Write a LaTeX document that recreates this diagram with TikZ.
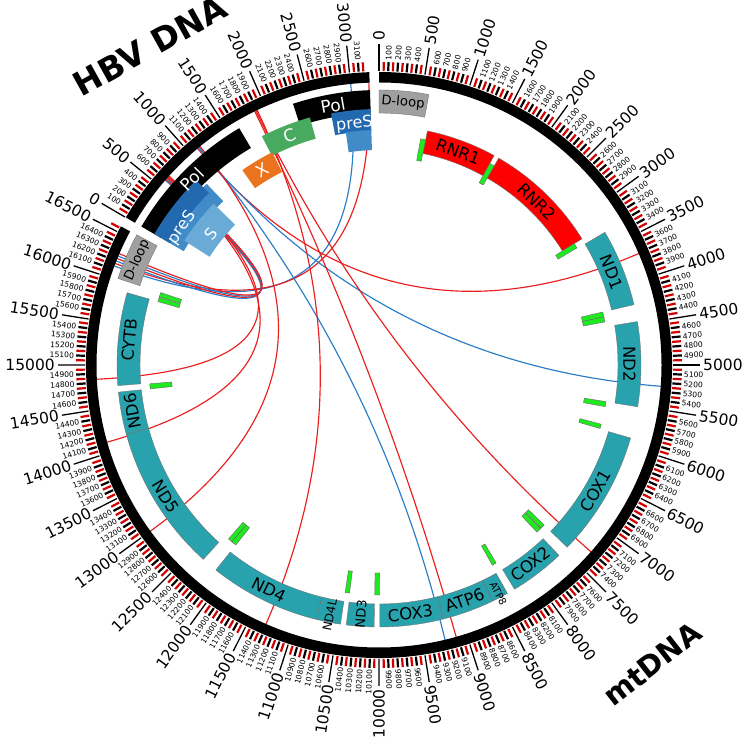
\documentclass[tikz,border=0pt]{standalone}
\usepackage{fontspec}
\setmainfont{DejaVu Sans}
\usetikzlibrary{calc}
\definecolor{geneteal}{RGB}{40,162,172}
\definecolor{rnrred}{RGB}{255,0,0}
\definecolor{dloopgray}{RGB}{160,160,160}
\definecolor{trnagreen}{RGB}{30,235,30}
\definecolor{hbvC}{RGB}{72,170,95}
\definecolor{hbvX}{RGB}{235,115,30}
\definecolor{preSd}{RGB}{35,105,175}
\definecolor{preSm}{RGB}{65,140,200}
\definecolor{preSl}{RGB}{105,170,215}
\definecolor{linkred}{RGB}{235,30,30}
\definecolor{linkblue}{RGB}{40,125,200}
\definecolor{tickred}{RGB}{210,0,0}
\newcommand\ann[5]{\path[#5] (#1:#3) arc[start angle=#1,end angle=#2,radius=#3] -- (#2:#4) arc[start angle=#2,end angle=#1,radius=#4] -- cycle;}
% angle of an mtDNA / HBV position (bp), computed with integers to stay in range
\newcommand\mtang[2]{\pgfmathsetmacro#1{90-0.18*\the\numexpr(#2)/10\relax}}
\newcommand\hbang[2]{\pgfmathsetmacro#1{149.77-0.018*#2}}
\newcommand\mtg[5]{\mtang\gA{#1}\mtang\gB{#2}\ann{\gA}{\gB}{#3}{#4}{#5}}
\newcommand\hbg[5]{\hbang\gA{#1}\hbang\gB{#2}\ann{\gA}{\gB}{#3}{#4}{#5}}
% label: angle, radius, text, mode, style
\newcommand\glab[5]{\ifcase#4 \pgfmathsetmacro\lR{#1-90}\or \pgfmathsetmacro\lR{#1+90}\or \pgfmathsetmacro\lR{#1}\or\pgfmathsetmacro\lR{#1+180}\fi
\node[rotate=\lR,inner sep=0,#5] at (#1:#2) {#3};}
\newcommand\mtl[5]{\mtang\lA{#1}\glab{\lA}{#2}{#3}{#4}{#5}}
\newcommand\hbl[5]{\hbang\lA{#1}\glab{\lA}{#2}{#3}{#4}{#5}}
% radial tick label: angle, radius, text, font, name
\newcommand\radlab[5]{\pgfmathsetmacro\aN{#1<-89.99 ? #1+360 : #1}%
\pgfmathtruncatemacro\isleft{\aN>90.01 ? 1 : 0}%
\ifnum\isleft=1 \node[name=#5,rotate=\aN-180,anchor=east,inner sep=0,font=#4] at (\aN:#2) {#3};%
\else \node[name=#5,rotate=\aN,anchor=west,inner sep=0,font=#4] at (\aN:#2) {#3};\fi}
% link: color, HBV bp, mt bp
\newcommand\lnk[3]{\hbang\kA{#2}\mtang\kB{#3}%
\draw[linkline,#1] (\kA:283) .. controls (\kA:94.3) and (\kB:94.3) .. (\kB:283);}
\begin{document}
\begin{tikzpicture}[x=1pt,y=1pt,
  majtick/.style={line width=1.3pt,black},
  mintick/.style={line width=2.2pt},
  linkline/.style={line width=1.15pt},
  genebox/.style={fill=geneteal,draw=black!55,line width=0.4pt},
  rnrbox/.style={fill=rnrred,draw=black!55,line width=0.4pt},
  dbox/.style={fill=dloopgray,draw=black!55,line width=0.4pt},
  tbox/.style={fill=trnagreen,draw=black!60,line width=0.4pt},
  glabel/.style={font=\fontsize{16.5}{17}\selectfont},
  hlabel/.style={font=\fontsize{17}{18}\selectfont,text=white}]
\useasboundingbox (0,0) rectangle (750,750);
\fill[white] (0,0) rectangle (750,750);
\begin{scope}[shift={(379,385)}]
% ---------- links ----------
% HBV preS (top) to the mtDNA D-loop
\lnk{linkblue}{3000}{16140}
\lnk{linkred}{3205}{16165}
% HBV S region to the mtDNA D-loop
\lnk{linkblue}{590}{16200}
\lnk{linkred}{602}{16225}
\lnk{linkblue}{614}{16260}
\lnk{linkred}{626}{16285}
% HBV S region to CYTB / ND6
\lnk{linkred}{640}{14122}
\lnk{linkred}{652}{14844}
% HBV Pol (about 1100) fan
\lnk{linkred}{1100}{3705}
\lnk{linkblue}{1112}{5244}
\lnk{linkblue}{1124}{9250}
\lnk{linkred}{1136}{13000}
% HBV X / C region
\lnk{linkred}{1870}{9122}
\lnk{linkred}{1885}{7300}
\lnk{linkred}{1900}{11306}
% ---------- ideogram rings ----------
\ann{90}{-208.24}{282.5}{293}{fill=black}
\ann{149.77}{91.9}{282.5}{293}{fill=black}
% ---------- mtDNA ticks (every 50 bp) ----------
\foreach \i in {0,...,331}{
  \pgfmathsetmacro\ang{90-0.9*\i}
  \pgfmathtruncatemacro\mf{mod(\i,10)}
  \pgfmathtruncatemacro\mh{mod(\i,2)}
  \edef\ptxt{\the\numexpr50*\i\relax}
  \ifnum\mf=0
    \draw[majtick] (\ang:294) -- (\ang:321);
    \radlab{\ang}{324}{\ptxt}{\fontsize{15.5}{16}\selectfont}{mtL\i}
  \else\ifnum\mh=0
    \draw[mintick,black] (\ang:294) -- (\ang:303);
    \radlab{\ang}{305}{\ptxt}{\fontsize{7.6}{8}\selectfont}{mts\i}
  \else
    \draw[mintick,tickred] (\ang:294) -- (\ang:303);
  \fi\fi
}
% ---------- HBV ticks ----------
\foreach \i in {0,...,63}{
  \pgfmathsetmacro\ang{149.77-0.9*\i}
  \pgfmathtruncatemacro\mf{mod(\i,10)}
  \pgfmathtruncatemacro\mh{mod(\i,2)}
  \edef\ptxt{\the\numexpr50*\i\relax}
  \ifnum\mf=0
    \draw[majtick] (\ang:294) -- (\ang:321);
    \radlab{\ang}{324}{\ptxt}{\fontsize{15.5}{16}\selectfont}{hbL\i}
  \else\ifnum\mh=0
    \draw[mintick,black] (\ang:294) -- (\ang:303);
    \radlab{\ang}{305}{\ptxt}{\fontsize{7.6}{8}\selectfont}{hbs\i}
  \else
    \draw[mintick,tickred] (\ang:294) -- (\ang:303);
  \fi\fi
}
% ---------- mtDNA genes ----------
\mtg{0}{576}{252}{275}{dbox}
\mtg{16024}{16569}{252}{275}{dbox}
\mtg{648}{1601}{216}{239}{rnrbox}
\mtg{1671}{3229}{216}{239}{rnrbox}
\mtg{3307}{4262}{239}{262}{genebox}
\mtg{4470}{5511}{239}{262}{genebox}
\mtg{5904}{7445}{239}{262}{genebox}
\mtg{7586}{8269}{239}{262}{genebox}
\mtg{8572}{9207}{239}{262}{genebox}
\mtg{8366}{8572}{239}{262}{genebox}
\mtg{9207}{9990}{239}{262}{genebox}
\mtg{10059}{10404}{239}{262}{genebox}
\mtg{10470}{10766}{239}{262}{genebox}
\mtg{10766}{12137}{239}{262}{genebox}
\mtg{12337}{14148}{239}{262}{genebox}
\mtg{14148}{14673}{239}{262}{genebox}
\mtg{14747}{15887}{239}{262}{genebox}
% tRNA bars
\foreach \s/\e in {577/647,1602/1670,3230/3304,4263/4331,4331/4400,5512/5579,5826/5891,7446/7514,7518/7585,8295/8364,9991/10058,10405/10469,12138/12206,12207/12265,14674/14742,15888/15953,15956/16023}{
  \mtg{\s}{\e}{208}{230}{tbox}
}
% ---------- mtDNA gene labels ----------
\mtl{288}{263.5}{D-loop}{0}{name=dl1,font=\fontsize{13.3}{14}\selectfont}
\mtl{16296}{263.5}{D-loop}{0}{name=dl2,font=\fontsize{13.3}{14}\selectfont}
\mtl{1125}{227.5}{RNR1}{0}{name=rnr1,glabel}
\mtl{2450}{227.5}{RNR2}{0}{name=rnr2,glabel}
\mtl{3785}{250.5}{ND1}{0}{name=nd1,glabel}
\mtl{4990}{250.5}{ND2}{0}{name=nd2,glabel}
\mtl{6675}{250.5}{COX1}{1}{name=cox1,glabel}
\mtl{7928}{250.5}{COX2}{1}{name=cox2,glabel}
\mtl{8469}{258}{ATP8}{2}{name=atp8,font=\fontsize{10}{11}\selectfont}
\mtl{8890}{250.5}{ATP6}{1}{name=atp6,glabel}
\mtl{9598}{250.5}{COX3}{1}{name=cox3,glabel}
\mtl{10232}{250}{ND3}{3}{name=nd3,font=\fontsize{13}{14}\selectfont}
\mtl{10618}{255}{ND4L}{3}{name=nd4l,font=\fontsize{12}{13}\selectfont}
\mtl{11449}{250.5}{ND4}{1}{name=nd4,glabel}
\mtl{13243}{250.5}{ND5}{1}{name=nd5,glabel}
\mtl{14411}{250.5}{ND6}{0}{name=nd6,glabel}
\mtl{15317}{250.5}{CYTB}{0}{name=cytb,glabel}
% ---------- HBV genes ----------
\hbg{0}{1623}{252}{275}{fill=black}
\hbg{2307}{3215}{252}{275}{fill=black}
\hbg{1814}{2452}{235}{257}{fill=hbvC}
\hbg{1374}{1838}{216}{238}{fill=hbvX}
\hbg{2720}{3215}{234}{256}{fill=preSd}
\hbg{2869}{3215}{215}{235}{fill=preSm}
\hbg{0}{900}{226}{250}{fill=preSm}
\hbg{0}{837}{242}{260}{fill=preSd}
\hbg{130}{780}{201}{231}{fill=preSl}
\hbl{811}{263.5}{Pol}{0}{name=pol1,hlabel}
\hbl{2761}{263.5}{Pol}{0}{name=pol2,hlabel}
\hbl{2133}{246}{C}{0}{name=cgene,hlabel}
\hbl{1606}{227}{X}{0}{name=xgene,hlabel}
\hbl{2995}{242}{preS}{0}{name=pres1,font=\fontsize{16}{17}\selectfont,text=white}
\hbl{255}{240}{preS}{0}{name=pres2,font=\fontsize{16}{17}\selectfont,text=white}
\hbl{425}{213}{S}{0}{name=sgene,font=\fontsize{16}{17}\selectfont,text=white}
\end{scope}
% ---------- titles ----------
\node[name=hbvtitle,rotate=29,font=\fontsize{33}{34}\selectfont\bfseries] at (150,704) {HBV DNA};
\node[name=mttitle,rotate=38,font=\fontsize{29}{30}\selectfont\bfseries] at (652,86) {mtDNA};
\end{tikzpicture}
\end{document}
